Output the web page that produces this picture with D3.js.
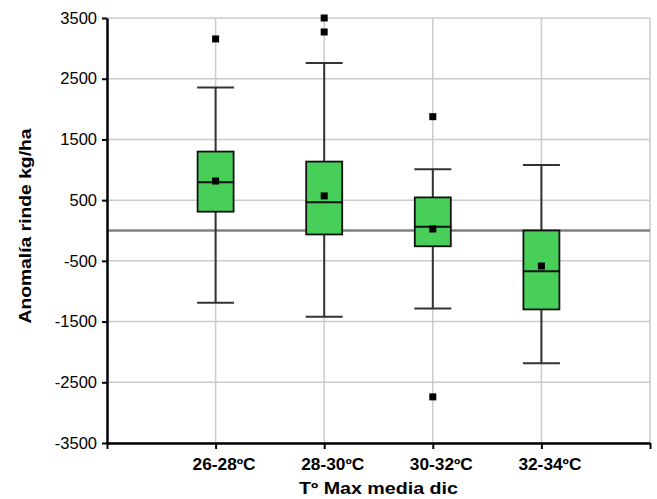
<!DOCTYPE html>
<html>
<head>
<meta charset="utf-8">
<script src="https://cdn.jsdelivr.net/npm/d3@7"></script>
<style>
  html, body { margin: 0; padding: 0; background: #fff; }
  svg { display: block; font-family: Arial, "Liberation Sans", sans-serif; }
</style>
</head>
<body>
<svg id="chart" width="657" height="499"></svg>
<script>
// ---- data ----
const categories = ["26-28ºC", "28-30ºC", "30-32ºC", "32-34ºC"];
const whiskerLow  = [-1190, -1420, -1285, -2185];
const q1          = [310, -65, -260, -1300];
const median      = [795, 465, 60, -670];
const q3          = [1300, 1135, 545, 0];
const whiskerHigh = [2355, 2760, 1010, 1080];
const means       = [815, 570, 25, -585];
const outlierCat  = [0, 1, 1, 2, 2];
const outlierVal  = [3155, 3500, 3270, 1875, -2740];
const yTicks = [-3500, -2500, -1500, -500, 500, 1500, 2500, 3500];
const yTitle = "Anomalía rinde kg/ha";
const xTitle = "Tº Max media dic";

// ---- layout ----
const svg = d3.select("#chart");
const pL = 107, pR = 650, pT = 18, pB = 443;
const x = d3.scaleLinear().domain([0, categories.length + 1]).range([pL, pR]);
const y = d3.scaleLinear().domain([-3500, 3500]).range([pB, pT]);
const boxW = 36, capW = 37, markSize = 7;
const green = "#48cf5a";
const FONT = "Arial, 'Liberation Sans', sans-serif";

// grid
const grid = svg.append("g");
grid.selectAll("line.h").data(yTicks).join("line")
  .attr("x1", pL).attr("x2", pR)
  .attr("y1", d => y(d)).attr("y2", d => y(d))
  .attr("stroke", "#cbcbcb").attr("stroke-width", 1.5);
grid.selectAll("line.v").data(d3.range(1, categories.length + 2)).join("line")
  .attr("x1", d => x(d)).attr("x2", d => x(d))
  .attr("y1", pT).attr("y2", pB)
  .attr("stroke", "#cbcbcb").attr("stroke-width", 1.5);

// zero line
svg.append("line")
  .attr("x1", pL).attr("x2", pR)
  .attr("y1", y(0)).attr("y2", y(0))
  .attr("stroke", "#808080").attr("stroke-width", 2.5);

// boxes
const g = svg.append("g");
categories.forEach((c, i) => {
  const cx = x(i + 1);
  g.append("line").attr("x1", cx).attr("x2", cx)
    .attr("y1", y(whiskerHigh[i])).attr("y2", y(q3[i]))
    .attr("stroke", "#333").attr("stroke-width", 2);
  g.append("line").attr("x1", cx).attr("x2", cx)
    .attr("y1", y(q1[i])).attr("y2", y(whiskerLow[i]))
    .attr("stroke", "#333").attr("stroke-width", 2);
  [whiskerHigh[i], whiskerLow[i]].forEach(v => {
    g.append("line").attr("x1", cx - capW / 2).attr("x2", cx + capW / 2)
      .attr("y1", y(v)).attr("y2", y(v))
      .attr("stroke", "#333").attr("stroke-width", 2);
  });
  g.append("rect")
    .attr("x", cx - boxW / 2).attr("width", boxW)
    .attr("y", y(q3[i])).attr("height", y(q1[i]) - y(q3[i]))
    .attr("fill", green).attr("stroke", "#111").attr("stroke-width", 1.8);
  g.append("line").attr("x1", cx - capW / 2).attr("x2", cx + capW / 2)
    .attr("y1", y(median[i])).attr("y2", y(median[i]))
    .attr("stroke", "#111").attr("stroke-width", 2);
  g.append("rect")
    .attr("x", cx - markSize / 2).attr("y", y(means[i]) - markSize / 2)
    .attr("width", markSize).attr("height", markSize).attr("fill", "#000");
});

// outliers
g.selectAll("rect.out").data(outlierVal).join("rect")
  .attr("class", "out")
  .attr("x", (d, k) => x(outlierCat[k] + 1) - markSize / 2)
  .attr("y", d => y(d) - markSize / 2)
  .attr("width", markSize).attr("height", markSize).attr("fill", "#000");

// axes
const yAxis = svg.append("g").attr("transform", `translate(${pL},0)`)
  .call(d3.axisLeft(y).tickValues(yTicks).tickSize(5).tickSizeOuter(0).tickPadding(5)
    .tickFormat(d => String(d)));
yAxis.select(".domain").attr("stroke", "#000").attr("stroke-width", 2.5);
yAxis.selectAll(".tick line").attr("stroke", "#000").attr("stroke-width", 2);
yAxis.selectAll(".tick text").attr("font-size", 16.5).attr("fill", "#000")
  .attr("font-family", FONT);

const xAxis = svg.append("g").attr("transform", `translate(0,${pB})`)
  .call(d3.axisBottom(x).tickValues(d3.range(0, categories.length + 2)).tickSize(6).tickSizeOuter(0)
    .tickFormat(d => (d >= 1 && d <= categories.length) ? categories[d - 1] : ""));
xAxis.select(".domain").attr("stroke", "#000").attr("stroke-width", 2.5);
xAxis.selectAll(".tick line").attr("stroke", "#000").attr("stroke-width", 2);
xAxis.selectAll(".tick text").attr("font-size", 16).attr("font-weight", "bold").attr("fill", "#000")
  .attr("font-family", FONT)
  .attr("dx", 8).attr("dy", "1.12em")
  .each(function(d) { if (d >= 1 && d <= categories.length) d3.select(this).attr("textLength", 63).attr("lengthAdjust", "spacingAndGlyphs"); });

// titles
svg.append("text")
  .attr("x", (pL + pR) / 2).attr("y", 494)
  .attr("text-anchor", "middle").attr("font-size", 16.5).attr("font-weight", "bold")
  .attr("textLength", 159).attr("lengthAdjust", "spacingAndGlyphs")
  .text(xTitle);
svg.append("text")
  .attr("transform", `translate(31,226) rotate(-90)`)
  .attr("text-anchor", "middle").attr("font-size", 16.5).attr("font-weight", "bold")
  .attr("textLength", 195).attr("lengthAdjust", "spacingAndGlyphs")
  .text(yTitle);
</script>
</body>
</html>
